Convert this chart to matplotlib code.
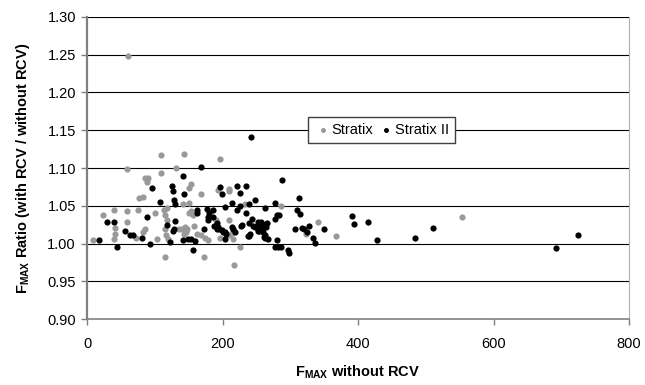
import matplotlib
matplotlib.use("Agg")
import matplotlib.pyplot as plt

plt.rcParams['font.family'] = ['Liberation Sans', 'DejaVu Sans']
plt.rcParams['mathtext.fontset'] = 'custom'
plt.rcParams['mathtext.rm'] = 'Liberation Sans'
plt.rcParams['mathtext.bf'] = 'Liberation Sans:bold'

# Stratix (gray)
stratix_x = [9, 24, 40, 41, 42, 40, 59.5, 58.6, 60, 59.5, 72, 76, 77, 83, 83, 86, 86, 90, 88,
             101, 104, 109, 109, 113, 115, 118, 118, 116, 115, 115, 119, 131, 143, 142, 150,
             153, 151, 153, 151, 157, 136, 140, 147, 146, 143, 145, 158, 162, 168, 168, 174,
             179, 173, 191, 194, 196, 197, 209, 210, 210, 209, 214, 216, 217, 226, 233, 253,
             286, 323, 341, 368, 553]
stratix_y = [1.005, 1.038, 1.044, 1.021, 1.013, 1.006, 1.043, 1.029, 1.248, 1.099, 1.008, 1.045,
             1.060, 1.062, 1.016, 1.020, 1.087, 1.087, 1.082, 1.041, 1.006, 1.117, 1.093, 1.045,
             1.038, 1.031, 1.047, 1.011, 1.020, 0.982, 1.006, 1.100, 1.119, 1.053, 1.054, 1.079,
             1.074, 1.043, 1.040, 1.038, 1.020, 1.019, 1.020, 1.016, 1.013, 1.022, 1.023, 1.013,
             1.065, 1.011, 1.008, 1.005, 0.982, 1.031, 1.071, 1.008, 1.112, 1.072, 1.069, 1.031,
             1.011, 1.014, 1.006, 0.972, 0.995, 1.052, 1.021, 1.050, 1.013, 1.029, 1.010, 1.035]

# Stratix II (black)
stratix2_x = [17.7, 29, 40, 45, 56, 63.5, 68, 81, 88, 93, 96, 108, 117.6, 123, 125, 127, 127,
              128.5, 128, 130, 130, 141, 141, 142.7, 149.5, 153, 159, 157, 162, 162, 168, 172,
              177.6, 178, 179, 180.5, 185.4, 186.4, 187.5, 191.4, 191.4, 194, 195, 196.3, 199,
              199, 200, 203, 203, 203, 205, 214, 213.6, 216, 218.5, 221, 221, 225.9, 225.8, 227,
              229, 234, 234.7, 238, 239, 239, 239, 241, 242, 243, 245.5, 248, 248, 252, 253, 253,
              253, 254, 255, 255, 257, 260, 260, 261, 263, 263, 263, 264, 264, 266, 267, 278, 278,
              280, 280, 284, 278, 282, 286, 288, 297, 298, 307, 309.5, 313, 314, 317, 320, 324,
              328, 334, 336, 350, 391, 394, 415, 428, 484, 511, 692, 724]
stratix2_y = [1.005, 1.028, 1.028, 0.996, 1.017, 1.011, 1.011, 1.008, 1.035, 1.000, 1.074, 1.055,
              1.024, 1.002, 1.076, 1.069, 1.017, 1.019, 1.058, 1.052, 1.030, 1.089, 1.005, 1.066,
              1.006, 1.006, 1.004, 0.991, 1.044, 1.040, 1.101, 1.019, 1.046, 1.035, 1.031, 1.040,
              1.044, 1.035, 1.023, 1.027, 1.020, 1.022, 1.019, 1.075, 1.065, 1.018, 1.016, 1.049,
              1.016, 1.006, 1.013, 1.054, 1.022, 1.020, 1.016, 1.076, 1.045, 1.067, 1.050, 1.023,
              1.025, 1.076, 1.040, 1.010, 1.053, 1.0275, 1.010, 1.013, 1.141, 1.033, 1.023, 1.058,
              1.022, 1.020, 1.029, 1.024, 1.017, 1.017, 1.022, 1.0275, 1.029, 1.022, 1.016, 1.009,
              1.047, 1.011, 1.008, 1.026, 1.022, 1.0275, 1.0055, 1.054, 1.033, 1.038, 1.005, 1.038,
              0.996, 0.995, 0.995, 1.084, 0.991, 0.988, 1.019, 1.044, 1.060, 1.039, 1.021, 1.019,
              1.016, 1.023, 1.008, 1.001, 1.020, 1.036, 1.026, 1.028, 1.005, 1.008, 1.021, 0.994,
              1.012]

x_ticks = [0, 200, 400, 600, 800]
y_ticks = [0.90, 0.95, 1.00, 1.05, 1.10, 1.15, 1.20, 1.25, 1.30]

fig = plt.figure(figsize=(6.45, 3.85), dpi=100)
ax = fig.add_axes([87 / 645, 1 - 319.3 / 385, 542 / 645, (319.3 - 16.7) / 385])

for yv in y_ticks[1:]:
    ax.axhline(yv, color='black', lw=0.8, zorder=1)

ax.scatter(stratix_x, stratix_y, s=20, color='#999999', label='Stratix', zorder=3, linewidths=0)
ax.scatter(stratix2_x, stratix2_y, s=20, color='black', label='Stratix II', zorder=3, linewidths=0)

ax.set_xlim(0, 800)
ax.set_ylim(0.90, 1.30)
ax.set_xticks(x_ticks)
ax.set_yticks(y_ticks)
ax.set_yticklabels(['%.2f' % v for v in y_ticks])
ax.tick_params(direction='out', length=4, width=1, color='#808080', labelsize=10.5)
ax.tick_params(axis='x', pad=9)
ax.tick_params(axis='y', pad=4)

ax.spines['left'].set_color('#808080')
ax.spines['left'].set_linewidth(1.6)
ax.spines['bottom'].set_color('#808080')
ax.spines['bottom'].set_linewidth(1.2)
ax.spines['right'].set_color('#b0b0b0')
ax.spines['top'].set_visible(False)

ax.set_xlabel(r'$\mathbf{F_{MAX}}$ without RCV', fontsize=10.5, fontweight='bold', labelpad=9)
ax.set_ylabel(r'$\mathbf{F_{MAX}}$ Ratio (with RCV / without RCV)', fontsize=10.5,
              fontweight='bold', labelpad=11)

leg = ax.legend(loc='upper left', bbox_to_anchor=(0.408, 0.669), borderaxespad=0, ncol=2,
                fancybox=False, framealpha=1, edgecolor='#404040', fontsize=10.5,
                handletextpad=0.0, columnspacing=0.3, markerscale=0.8, borderpad=0.4,
                handlelength=1.2)
leg.get_frame().set_linewidth(1.0)

fig.savefig('out.png', dpi=100)
